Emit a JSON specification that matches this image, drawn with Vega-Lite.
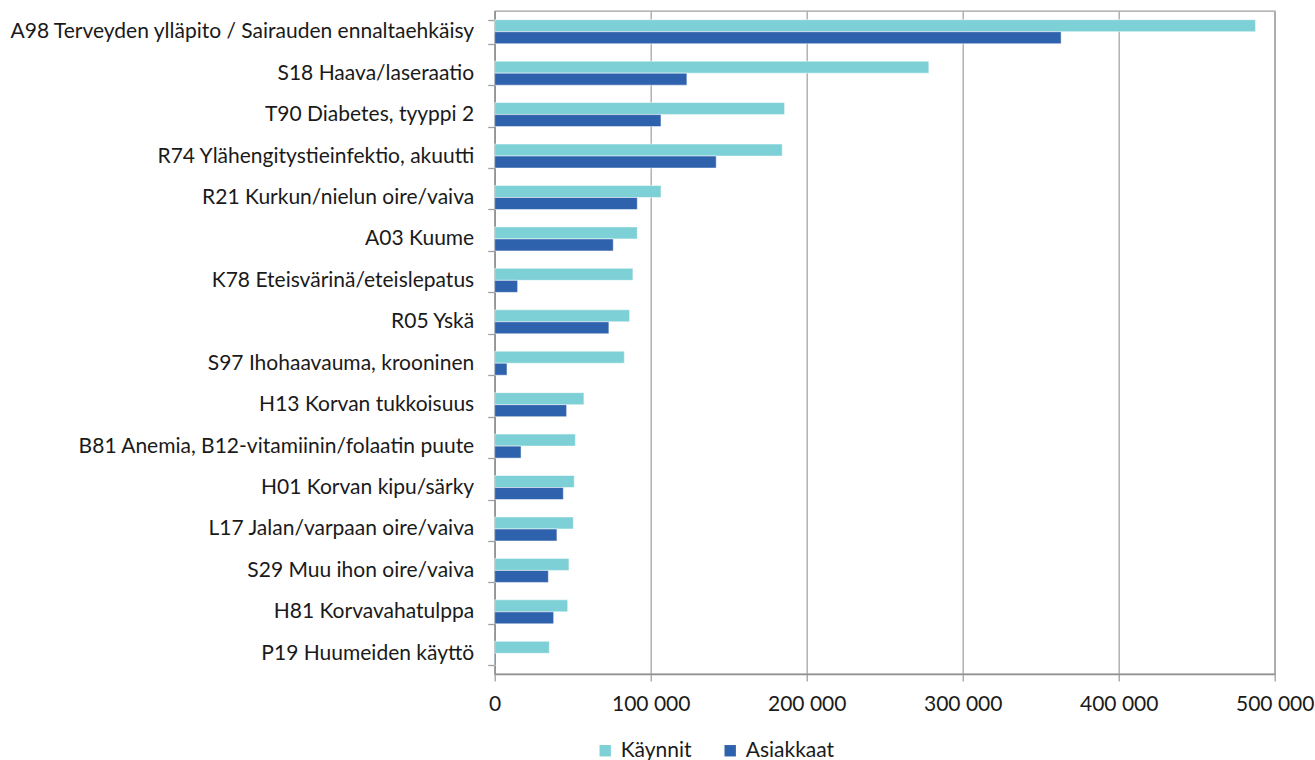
{
  "$schema": "https://vega.github.io/schema/vega-lite/v6.json",
  "width": 780,
  "height": 663,
  "autosize": "none",
  "padding": {"left": 494.7, "top": 11, "right": 40.3, "bottom": 86},
  "background": "#ffffff",
  "config": {
    "font": "Lato",
    "view": {"stroke": "#a0a0a0", "strokeWidth": 1.3}
  },
  "data": {
    "values": [
      {"diagnoosi": "A98 Terveyden ylläpito / Sairauden ennaltaehkäisy", "sarja": "Käynnit", "arvo": 487700},
      {"diagnoosi": "A98 Terveyden ylläpito / Sairauden ennaltaehkäisy", "sarja": "Asiakkaat", "arvo": 363100},
      {"diagnoosi": "S18 Haava/laseraatio", "sarja": "Käynnit", "arvo": 278300},
      {"diagnoosi": "S18 Haava/laseraatio", "sarja": "Asiakkaat", "arvo": 123200},
      {"diagnoosi": "T90 Diabetes, tyyppi 2", "sarja": "Käynnit", "arvo": 185800},
      {"diagnoosi": "T90 Diabetes, tyyppi 2", "sarja": "Asiakkaat", "arvo": 106600},
      {"diagnoosi": "R74 Ylähengitystieinfektio, akuutti", "sarja": "Käynnit", "arvo": 184300},
      {"diagnoosi": "R74 Ylähengitystieinfektio, akuutti", "sarja": "Asiakkaat", "arvo": 142000},
      {"diagnoosi": "R21 Kurkun/nielun oire/vaiva", "sarja": "Käynnit", "arvo": 106600},
      {"diagnoosi": "R21 Kurkun/nielun oire/vaiva", "sarja": "Asiakkaat", "arvo": 91400},
      {"diagnoosi": "A03 Kuume", "sarja": "Käynnit", "arvo": 91400},
      {"diagnoosi": "A03 Kuume", "sarja": "Asiakkaat", "arvo": 76000},
      {"diagnoosi": "K78 Eteisvärinä/eteislepatus", "sarja": "Käynnit", "arvo": 88600},
      {"diagnoosi": "K78 Eteisvärinä/eteislepatus", "sarja": "Asiakkaat", "arvo": 14700},
      {"diagnoosi": "R05 Yskä", "sarja": "Käynnit", "arvo": 86500},
      {"diagnoosi": "R05 Yskä", "sarja": "Asiakkaat", "arvo": 73200},
      {"diagnoosi": "S97 Ihohaavauma, krooninen", "sarja": "Käynnit", "arvo": 83100},
      {"diagnoosi": "S97 Ihohaavauma, krooninen", "sarja": "Asiakkaat", "arvo": 7900},
      {"diagnoosi": "H13 Korvan tukkoisuus", "sarja": "Käynnit", "arvo": 57200},
      {"diagnoosi": "H13 Korvan tukkoisuus", "sarja": "Asiakkaat", "arvo": 46100},
      {"diagnoosi": "B81 Anemia, B12-vitamiinin/folaatin puute", "sarja": "Käynnit", "arvo": 51700},
      {"diagnoosi": "B81 Anemia, B12-vitamiinin/folaatin puute", "sarja": "Asiakkaat", "arvo": 16900},
      {"diagnoosi": "H01 Korvan kipu/särky", "sarja": "Käynnit", "arvo": 51000},
      {"diagnoosi": "H01 Korvan kipu/särky", "sarja": "Asiakkaat", "arvo": 44000},
      {"diagnoosi": "L17 Jalan/varpaan oire/vaiva", "sarja": "Käynnit", "arvo": 50400},
      {"diagnoosi": "L17 Jalan/varpaan oire/vaiva", "sarja": "Asiakkaat", "arvo": 39900},
      {"diagnoosi": "S29 Muu ihon oire/vaiva", "sarja": "Käynnit", "arvo": 47600},
      {"diagnoosi": "S29 Muu ihon oire/vaiva", "sarja": "Asiakkaat", "arvo": 34400},
      {"diagnoosi": "H81 Korvavahatulppa", "sarja": "Käynnit", "arvo": 46800},
      {"diagnoosi": "H81 Korvavahatulppa", "sarja": "Asiakkaat", "arvo": 37800},
      {"diagnoosi": "P19 Huumeiden käyttö", "sarja": "Käynnit", "arvo": 35000},
      {"diagnoosi": "P19 Huumeiden käyttö", "sarja": "Asiakkaat", "arvo": 800}
    ]
  },
  "mark": {"type": "bar", "stroke": "#ffffff", "strokeOpacity": 0.5, "strokeWidth": 1},
  "encoding": {
    "y": {
      "field": "diagnoosi",
      "type": "nominal",
      "sort": null,
      "scale": {"paddingInner": 0.42, "paddingOuter": 0.21},
      "axis": {
        "title": null,
        "tickBand": "extent",
        "grid": false,
        "domainColor": "#909090",
        "domainWidth": 1.3,
        "tickColor": "#a0a0a0",
        "tickWidth": 1.3,
        "tickSize": 7,
        "labelPadding": 14,
        "labelFontSize": 21,
        "labelColor": "#1a1a1a",
        "labelLimit": 600
      }
    },
    "yOffset": {"field": "sarja", "type": "nominal", "sort": ["Käynnit", "Asiakkaat"]},
    "x": {
      "field": "arvo",
      "type": "quantitative",
      "scale": {"domain": [0, 500000], "nice": false},
      "axis": {
        "title": null,
        "values": [0, 100000, 200000, 300000, 400000, 500000],
        "labelExpr": "replace(format(datum.value, ','), ',', ' ')",
        "grid": true,
        "gridColor": "#a6a6a6",
        "gridWidth": 1.3,
        "domainColor": "#909090",
        "domainWidth": 1.3,
        "tickColor": "#a0a0a0",
        "tickWidth": 1.3,
        "tickSize": 7,
        "labelPadding": 12,
        "labelFontSize": 21,
        "labelColor": "#1a1a1a",
        "labelFlush": false
      }
    },
    "color": {
      "field": "sarja",
      "type": "nominal",
      "sort": ["Käynnit", "Asiakkaat"],
      "scale": {"domain": ["Käynnit", "Asiakkaat"], "range": ["#7dd0d6", "#2f62ad"]},
      "legend": {
        "title": null,
        "orient": "none",
        "direction": "horizontal",
        "legendX": 100,
        "legendY": 729,
        "padding": 0,
        "symbolType": "square",
        "symbolSize": 130,
        "symbolStrokeWidth": 0,
        "labelFontSize": 21,
        "labelColor": "#1a1a1a",
        "labelOffset": 5,
        "columnPadding": 28
      }
    }
  }
}
